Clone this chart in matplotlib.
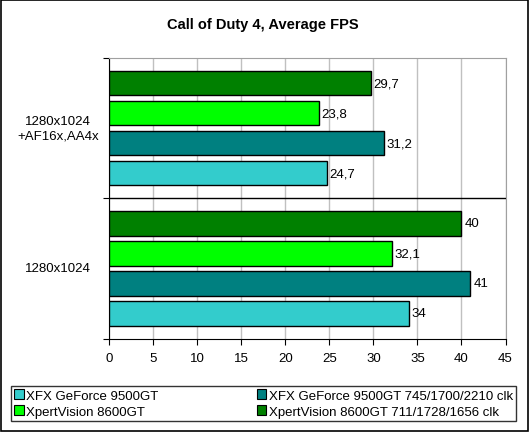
import numpy as np
import matplotlib
matplotlib.use('Agg')
import matplotlib.pyplot as plt
import matplotlib.transforms as mtransforms
from matplotlib.patches import Rectangle, Patch

plt.rcParams['font.family'] = ['Liberation Sans', 'DejaVu Sans']

# data (bottom group first)
groups = ['1280x1024', '1280x1024\n+AF16x,AA4x']
series = ['XFX GeForce 9500GT',
          'XFX GeForce 9500GT 745/1700/2210 clk',
          'XpertVision 8600GT',
          'XpertVision 8600GT 711/1728/1656 clk']
colors = ['#33CCCC', '#008080', '#00FF00', '#008000']
xfx = [34, 24.7]
xfx_oc = [41, 31.2]
xpert = [32.1, 23.8]
xpert_oc = [40, 29.7]
values = [xfx, xfx_oc, xpert, xpert_oc]

W, H = 530, 435
fig = plt.figure(figsize=(W / 100, H / 100), dpi=100)
ax = fig.add_axes([109 / W, 1 - 339.5 / H, 396.5 / W, 280.5 / H])

pitch = 0.214
bh = 0.176
for i, (vals, c) in enumerate(zip(values, colors)):
    ys = np.arange(len(groups)) + 0.5 + (i - 1.5) * pitch
    ax.barh(ys, vals, height=bh, color=c, edgecolor='black', linewidth=1, zorder=3)
    for y, v in zip(ys, vals):
        lab = ('%g' % v).replace('.', ',')
        ax.annotate(lab, (v, y), xytext=(3, 0), textcoords='offset pixels',
                    va='center', ha='left', fontsize=9.5)

ax.set_xlim(0, 45)
ax.set_ylim(0, 2)
ax.set_xticks(np.arange(0, 50, 5))
ax.set_yticks([0, 1, 2])
ax.set_yticklabels([])
ax.tick_params(axis='x', length=4, labelsize=9.5, pad=6)
ax.tick_params(axis='y', length=4)
ax.xaxis.grid(True, color='#C0C0C0', linewidth=1, zorder=0)
ax.set_axisbelow(True)
ax.axhline(1, color='black', linewidth=1, zorder=4)
for s in ['top', 'right']:
    ax.spines[s].set_color('#A0A0A0')
for s in ['left', 'bottom']:
    ax.spines[s].set_color('black')

trans = mtransforms.blended_transform_factory(ax.transAxes, ax.transData)
for k, g in enumerate(groups):
    ax.text(-0.1286, k + 0.5, g, transform=trans, ha='center', va='center',
            fontsize=9.5, linespacing=1.2)

fig.text(263 / W, 1 - 25 / H, 'Call of Duty 4, Average FPS', ha='center',
         va='center', fontsize=10.5, fontweight='bold')

# legend: column-major order
order = [0, 2, 1, 3]
handles = [Patch(facecolor=colors[i], edgecolor='black', linewidth=0.8) for i in order]
labels = [series[i] for i in order]
leg = fig.legend(handles, labels, ncol=2, loc='lower left',
                 bbox_to_anchor=(11 / W, 1 - 422 / H, 505 / W, 39 / H),
                 mode='expand', frameon=True, fancybox=False, fontsize=9.5,
                 handlelength=0.7, handleheight=0.7, handletextpad=0.2,
                 borderaxespad=0, borderpad=0.25, labelspacing=0.3,
                 columnspacing=1.0)
leg.get_frame().set_edgecolor('black')
leg.get_frame().set_linewidth(1)

fig.patches.append(Rectangle((1 / W, 3 / H), 527 / W, 431 / H, fill=False,
                             edgecolor='black', linewidth=1.2,
                             transform=fig.transFigure, figure=fig))

fig.savefig('out.png', dpi=100)
